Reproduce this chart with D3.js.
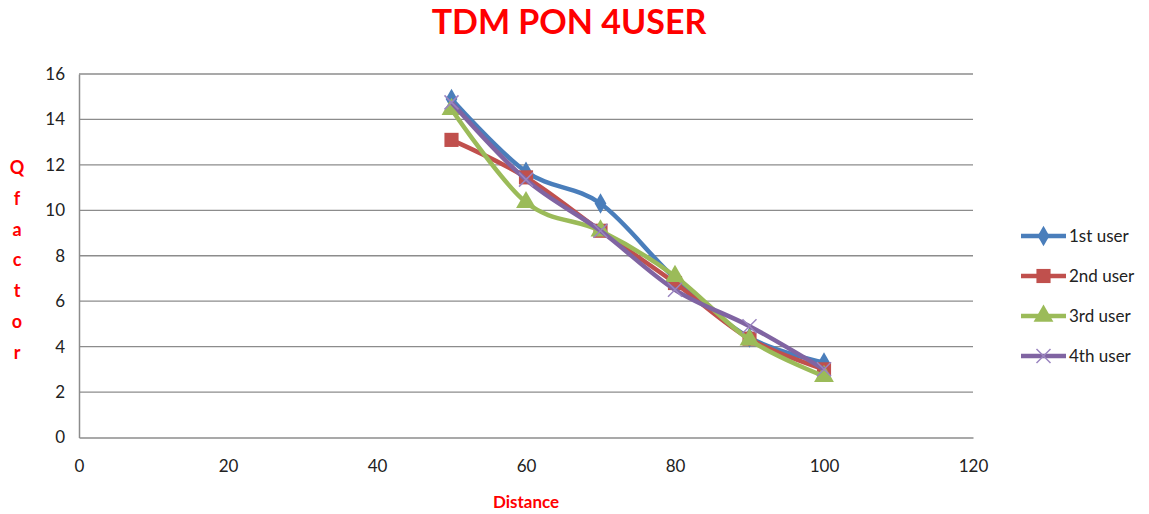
<!DOCTYPE html>
<html>
<head>
<meta charset="utf-8">
<script src="https://cdn.jsdelivr.net/npm/d3@7"></script>
<style>
  body { margin: 0; background: #fff; }
  svg { font-family: Lato, "Open Sans", sans-serif; }
</style>
</head>
<body>
<svg id="chart" width="1149" height="514"></svg>
<script>
// values
var distance = [50, 60, 70, 80, 90, 100];
var user1 = [14.9, 11.7, 10.3, 7.0, 4.4, 3.3];
var user2 = [13.1, 11.45, 9.1, 6.8, 4.35, 3.0];
var user3 = [14.45, 10.35, 9.1, 7.1, 4.3, 2.7];
var user4 = [14.75, 11.35, 9.1, 6.5, 4.9, 3.0];
var seriesNames = ["1st user", "2nd user", "3rd user", "4th user"];
var colors = ["#4a7ebb", "#c0504d", "#9bbb59", "#8064a2"];
var symbols = ["diamond", "square", "triangle", "cross"];
var xTicks = [0, 20, 40, 60, 80, 100, 120];
var yTicks = [0, 2, 4, 6, 8, 10, 12, 14, 16];

var svg = d3.select("#chart");
// plot box (don't call it "top", window.top is taken)
var plotL = 79, plotR = 973, plotT = 74, plotB = 437.5;

var x = d3.scaleLinear().domain([0, 120]).range([plotL, plotR]);
var y = d3.scaleLinear().domain([0, 16]).range([plotB, plotT]);

// title
svg.append("text")
  .attr("x", 569).attr("y", 34)
  .attr("text-anchor", "middle")
  .attr("font-size", 34).attr("font-weight", "bold")
  .attr("fill", "#ff0000")
  .text("TDM PON 4USER");

// grid lines
svg.append("g").selectAll("line")
  .data(yTicks.slice(1))
  .enter().append("line")
  .attr("x1", plotL).attr("x2", plotR)
  .attr("y1", d => y(d)).attr("y2", d => y(d))
  .attr("stroke", "#8c8c8c").attr("stroke-width", 1.3);

// axes
var yAxis = svg.append("g")
  .attr("transform", "translate(" + plotL + ",0)")
  .call(d3.axisLeft(y).tickValues(yTicks).tickSize(0).tickPadding(14));
var xAxis = svg.append("g")
  .attr("transform", "translate(0," + plotB + ")")
  .call(d3.axisBottom(x).tickValues(xTicks).tickSize(0).tickPadding(22));
[xAxis, yAxis].forEach(function(a) {
  a.select(".domain").attr("stroke", "#8c8c8c").attr("stroke-width", 1.5);
  a.selectAll("text").attr("font-size", 17).attr("fill", "#222")
    .attr("font-family", "Lato, 'Open Sans', sans-serif");
});

// axis titles
svg.append("text")
  .attr("x", 526).attr("y", 508)
  .attr("text-anchor", "middle")
  .attr("font-size", 17).attr("font-weight", "bold")
  .attr("fill", "#ff0000")
  .text("Distance");

var letters = "Qfactor".split("");
svg.append("g").selectAll("text")
  .data(letters)
  .enter().append("text")
  .attr("x", 17)
  .attr("y", (d, i) => 174 + i * 30.8)
  .attr("text-anchor", "middle")
  .attr("font-size", 18).attr("font-weight", "bold")
  .attr("fill", "#ff0000")
  .text(d => d);

// series
var allSeries = [user1, user2, user3, user4];
var line = d3.line()
  .x((d, i) => x(distance[i]))
  .y(d => y(d))
  .curve(d3.curveCatmullRom.alpha(0));

function drawMarker(g, kind, color, cx, cy) {
  if (kind == "diamond") {
    g.append("path").attr("d", d3.symbol(d3.symbolDiamond, 120)())
      .attr("transform", "translate(" + cx + "," + cy + ")").attr("fill", color);
  } else if (kind == "square") {
    g.append("path").attr("d", d3.symbol(d3.symbolSquare, 200)())
      .attr("transform", "translate(" + cx + "," + cy + ")").attr("fill", color);
  } else if (kind == "triangle") {
    g.append("path").attr("d", d3.symbol(d3.symbolTriangle, 170)())
      .attr("transform", "translate(" + cx + "," + cy + ")").attr("fill", color);
  } else {
    g.append("path").attr("d", "M-7,-7L7,7M-7,7L7,-7")
      .attr("transform", "translate(" + cx + "," + cy + ")")
      .attr("stroke", "#9a84c0").attr("stroke-width", 1.5).attr("fill", "none");
  }
}

allSeries.forEach(function(vals, s) {
  var g = svg.append("g");
  g.append("path")
    .datum(vals)
    .attr("d", line)
    .attr("fill", "none")
    .attr("stroke", colors[s])
    .attr("stroke-width", 4.5)
    .attr("stroke-linejoin", "round");
  vals.forEach(function(v, i) {
    drawMarker(g, symbols[s], colors[s], x(distance[i]), y(v));
  });
});

// legend
seriesNames.forEach(function(name, s) {
  var ly = 236 + s * 40;
  var g = svg.append("g");
  g.append("line")
    .attr("x1", 1021).attr("x2", 1066)
    .attr("y1", ly).attr("y2", ly)
    .attr("stroke", colors[s]).attr("stroke-width", 4.5);
  drawMarker(g, symbols[s], colors[s], 1043.5, ly);
  g.append("text")
    .attr("x", 1069).attr("y", ly + 6)
    .attr("font-size", 17).attr("fill", "#222")
    .text(name);
});
</script>
</body>
</html>
